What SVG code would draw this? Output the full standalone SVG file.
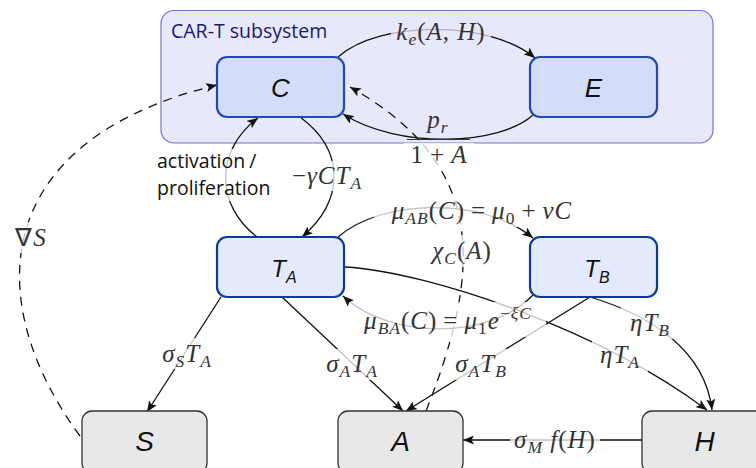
<svg xmlns="http://www.w3.org/2000/svg" width="756" height="468" viewBox="0 0 756 468">
<style>
.sub{fill:#e8e8fb;stroke:#7272d0;stroke-width:1.2}
.nc{fill:#d3ddfa;stroke:#2249b0;stroke-width:2.2}
.nt{fill:#e2eafb;stroke:#0b3a9a;stroke-width:2.2}
.ng{fill:#e8e8e8;stroke:#333;stroke-width:1.3}
.nl{font-family:"Liberation Sans",Arial,sans-serif;font-style:italic;fill:#111;text-anchor:middle}
.e{fill:none;stroke:#111;stroke-width:1.3}
.a{marker-end:url(#ar)}
.d{stroke-dasharray:9 7}
.m{font-family:"Liberation Serif","Times New Roman",serif;font-size:25px;letter-spacing:1px;fill:#333;text-anchor:middle}
.i{font-style:italic}
.s{font-size:17.5px}
.bw{fill:#fff;fill-opacity:0.75}
.bl{fill:#e8e8fb;fill-opacity:0.75}
.t{font-family:"Open Sans","Liberation Sans",sans-serif;fill:#111}
</style>
<defs>
<marker id="ar" markerUnits="userSpaceOnUse" markerWidth="12" markerHeight="9" refX="11" refY="4.5" orient="auto" viewBox="0 0 12 9">
<path d="M0,0 L11,4.5 L0,9 L2.5,4.5 z" fill="#111"/>
</marker>
</defs>
<g id="subsystem">
<rect class="sub" x="161" y="10.5" width="552" height="132.5" rx="13"/>
<text class="t" x="171" y="38" font-size="19.5" style="fill:#1a1a6e">CAR-T subsystem</text>
</g>
<g id="connectors">
<path class="e a" d="M338,57 C380,20 490,20 535,58"/>
<path class="e a" d="M533,115 C500,145 400,150 343,114"/>
<path class="e a d" d="M426,411 C482,270 488,165 350,87"/>
<path class="e a d" d="M80,436 C-20,300 -10,140 217,85"/>
<path class="e a" d="M300,117 C345,150 345,200 302,237"/>
<path class="e a" d="M257,237 C215,205 215,150 258,118"/>
<path class="e a" d="M338,237 C380,200 480,195 533,238"/>
<path class="e a" d="M533,295 C490,340 390,340 343,296"/>
<path class="e a" d="M221,297 L147,412"/>
<path class="e a" d="M282,297 L403,411"/>
<path class="e a" d="M590,297 L406,411"/>
<path class="e a" d="M345,267 C430,272 600,330 707,410"/>
<path class="e a" d="M590,297 C650,315 705,350 712,410"/>
<path class="e a" d="M642,440 L463,440"/>
</g>
<g id="labels">
<rect class="bl" x="391" y="16" width="100" height="32"/>
<text class="m" x="441" y="40"><tspan class="i">k</tspan><tspan class="i s" dy="5">e</tspan><tspan dy="-5">(</tspan><tspan class="i">A</tspan>, <tspan class="i">H</tspan>)</text>
<rect class="bl" x="423" y="110" width="30" height="27"/>
<text class="m" x="438" y="128"><tspan class="i">p</tspan><tspan class="i s" dy="5">r</tspan></text>
<line x1="407" y1="139.5" x2="470" y2="139.5" stroke="#333" stroke-width="1.1"/>
<rect class="bw" x="404" y="143" width="70" height="25"/>
<text class="m" x="439" y="163">1<tspan dx="6">+</tspan><tspan class="i" dx="6">A</tspan></text>
<rect class="bw" x="284" y="161" width="88" height="30"/>
<text class="m" x="327" y="184">−<tspan class="i">γCT</tspan><tspan class="i s" dy="5">A</tspan></text>
<rect class="bw" x="155" y="149" width="118" height="52"/>
<text class="t" x="157" y="168" font-size="19.5">activation<tspan dx="4">/</tspan></text>
<text class="t" x="157" y="195" font-size="19.5">proliferation</text>
<rect class="bw" x="374" y="195" width="210" height="32"/>
<text class="m" x="482" y="219"><tspan class="i">μ</tspan><tspan class="i s" dy="5">AB</tspan><tspan dy="-5">(</tspan><tspan class="i">C</tspan>)<tspan dx="6">=</tspan><tspan class="i" dx="6">μ</tspan><tspan class="s" dy="5">0</tspan><tspan dy="-5" dx="6">+</tspan><tspan class="i" dx="6">νC</tspan></text>
<rect class="bw" x="422" y="235" width="82" height="32"/>
<text class="m" x="462" y="259"><tspan class="i">χ</tspan><tspan class="i s" dy="5">C</tspan><tspan dy="-5">(</tspan><tspan class="i">A</tspan>)</text>
<rect class="bw" x="350" y="302" width="196" height="35"/>
<text class="m" x="448" y="329"><tspan class="i">μ</tspan><tspan class="i s" dy="5">BA</tspan><tspan dy="-5">(</tspan><tspan class="i">C</tspan>)<tspan dx="6">=</tspan><tspan class="i" dx="6">μ</tspan><tspan class="s" dy="5">1</tspan><tspan class="i" dy="-5">e</tspan><tspan class="s" dy="-10">−</tspan><tspan class="i s">ξC</tspan></text>
<rect class="bw" x="152" y="338" width="70" height="31"/>
<text class="m" x="187" y="362"><tspan class="i">σ</tspan><tspan class="i s" dy="5">S</tspan><tspan class="i" dy="-5">T</tspan><tspan class="i s" dy="5">A</tspan></text>
<rect class="bw" x="317" y="349" width="70" height="31"/>
<text class="m" x="352" y="372"><tspan class="i">σ</tspan><tspan class="i s" dy="5">A</tspan><tspan class="i" dy="-5">T</tspan><tspan class="i s" dy="5">A</tspan></text>
<rect class="bw" x="447" y="349" width="68" height="31"/>
<text class="m" x="481" y="372"><tspan class="i">σ</tspan><tspan class="i s" dy="5">A</tspan><tspan class="i" dy="-5">T</tspan><tspan class="i s" dy="5">B</tspan></text>
<rect class="bw" x="621" y="307" width="58" height="32"/>
<text class="m" x="650" y="331"><tspan class="i">ηT</tspan><tspan class="i s" dy="5">B</tspan></text>
<rect class="bw" x="592" y="341" width="56" height="31"/>
<text class="m" x="620" y="363"><tspan class="i">ηT</tspan><tspan class="i s" dy="5">A</tspan></text>
<rect class="bw" x="510" y="426" width="90" height="28"/>
<text class="m" x="555" y="448"><tspan class="i">σ</tspan><tspan class="i s" dy="5">M</tspan><tspan class="i" dy="-5"> f</tspan>(<tspan class="i">H</tspan>)</text>
<rect class="bw" x="8" y="222" width="46" height="31"/>
<text class="m" x="31" y="246">∇<tspan class="i">S</tspan></text>
</g>
<g id="node-C"><rect class="nc" x="217" y="57" width="127" height="60" rx="10"/><text class="nl" x="280.5" y="96.5" font-size="26">C</text></g>
<g id="node-E"><rect class="nc" x="530" y="57" width="127" height="60" rx="10"/><text class="nl" x="593.5" y="96.5" font-size="26">E</text></g>
<g id="node-TA"><rect class="nt" x="217" y="237" width="127" height="60" rx="10"/><text class="nl" x="284" y="277" font-size="24">T<tspan font-size="16" dy="6">A</tspan></text></g>
<g id="node-TB"><rect class="nt" x="530" y="237" width="127" height="60" rx="10"/><text class="nl" x="597" y="277" font-size="24">T<tspan font-size="16" dy="6">B</tspan></text></g>
<g id="node-S"><rect class="ng" x="82" y="411" width="125" height="62" rx="10"/><text class="nl" x="144.5" y="451" font-size="28">S</text></g>
<g id="node-A"><rect class="ng" x="338" y="411" width="125" height="62" rx="10"/><text class="nl" x="400.5" y="451" font-size="28">A</text></g>
<g id="node-H"><rect class="ng" x="642" y="411" width="125" height="62" rx="10"/><text class="nl" x="704.5" y="451" font-size="28">H</text></g>
</svg>
